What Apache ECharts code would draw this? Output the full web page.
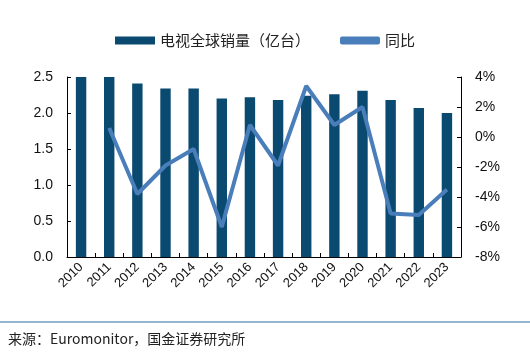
<!DOCTYPE html>
<html>
<head>
<meta charset="utf-8">
<script src="https://cdn.jsdelivr.net/npm/echarts@6/dist/echarts.min.js"></script>
<style>
  html, body { margin: 0; padding: 0; background: #fff; }
  #chart { width: 530px; height: 352px; }
</style>
</head>
<body>
<div id="chart"></div>
<script>
const years = ['2010', '2011', '2012', '2013', '2014', '2015', '2016', '2017', '2018', '2019', '2020', '2021', '2022', '2023']
// 电视全球销量（亿台）
const sales = [2.50, 2.50, 2.41, 2.34, 2.34, 2.20, 2.22, 2.18, 2.24, 2.26, 2.31, 2.18, 2.07, 2.00]
// 同比 (%)
const yoy = [null, 0.6, -3.8, -1.9, -0.8, -6.0, 0.8, -1.9, 3.4, 0.8, 2.0, -5.1, -5.2, -3.5]

const cjk = '"Noto Sans CJK SC", sans-serif'
const latin = '"Liberation Sans", Arial, sans-serif'

const myChart = echarts.init(document.getElementById('chart'))
const option = {
  animation: false,
  textStyle: { fontFamily: latin },
  legend: {
    top: 28,
    left: 'center',
    itemGap: 30,
    itemWidth: 40,
    itemHeight: 8,
    textStyle: { fontFamily: cjk, fontSize: 15, color: '#222' },
    data: [
      { name: '电视全球销量（亿台）', icon: 'rect' },
      { name: '同比', icon: 'roundRect', itemStyle: { color: '#4a7ebb' } }
    ]
  },
  grid: { left: 67, right: 69, top: 77, bottom: 95 },
  xAxis: {
    type: 'category',
    data: years,
    axisLine: { lineStyle: { color: '#000', width: 1 } },
    axisTick: { show: true, inside: true, length: 4, alignWithLabel: false, lineStyle: { color: '#000' } },
    axisLabel: { rotate: 45, color: '#111', fontSize: 13, margin: 8 }
  },
  yAxis: [
    {
      type: 'value',
      min: 0,
      max: 2.5,
      interval: 0.5,
      splitLine: { show: false },
      axisLine: { show: true, lineStyle: { color: '#000' } },
      axisTick: { show: true, inside: true, length: 4, lineStyle: { color: '#000' } },
      axisLabel: { color: '#111', fontSize: 14, margin: 14, formatter: v => v.toFixed(1) }
    },
    {
      type: 'value',
      min: -8,
      max: 4,
      interval: 2,
      position: 'right',
      splitLine: { show: false },
      axisLine: { show: true, lineStyle: { color: '#000' } },
      axisTick: { show: true, inside: true, length: 4, lineStyle: { color: '#000' } },
      axisLabel: { color: '#111', fontSize: 14, margin: 14, formatter: v => v + '%' }
    }
  ],
  series: [
    {
      name: '电视全球销量（亿台）',
      type: 'bar',
      data: sales,
      barWidth: '37%',
      itemStyle: { color: '#0b4a70' },
      yAxisIndex: 0
    },
    {
      name: '同比',
      type: 'line',
      data: yoy,
      yAxisIndex: 1,
      symbol: 'none',
      lineStyle: { color: '#4a7ebb', width: 4 },
      itemStyle: { color: '#4a7ebb' }
    }
  ],
  graphic: [
    { type: 'line', shape: { x1: 0, y1: 322, x2: 530, y2: 322 }, style: { stroke: '#2f6f9f', lineWidth: 1 } },
    { type: 'text', left: 8, top: 332, style: { text: '来源：Euromonitor，国金证券研究所', font: '14px "Noto Sans CJK SC", sans-serif', fill: '#222' } }
  ]
}
myChart.setOption(option)
</script>
</body>
</html>
